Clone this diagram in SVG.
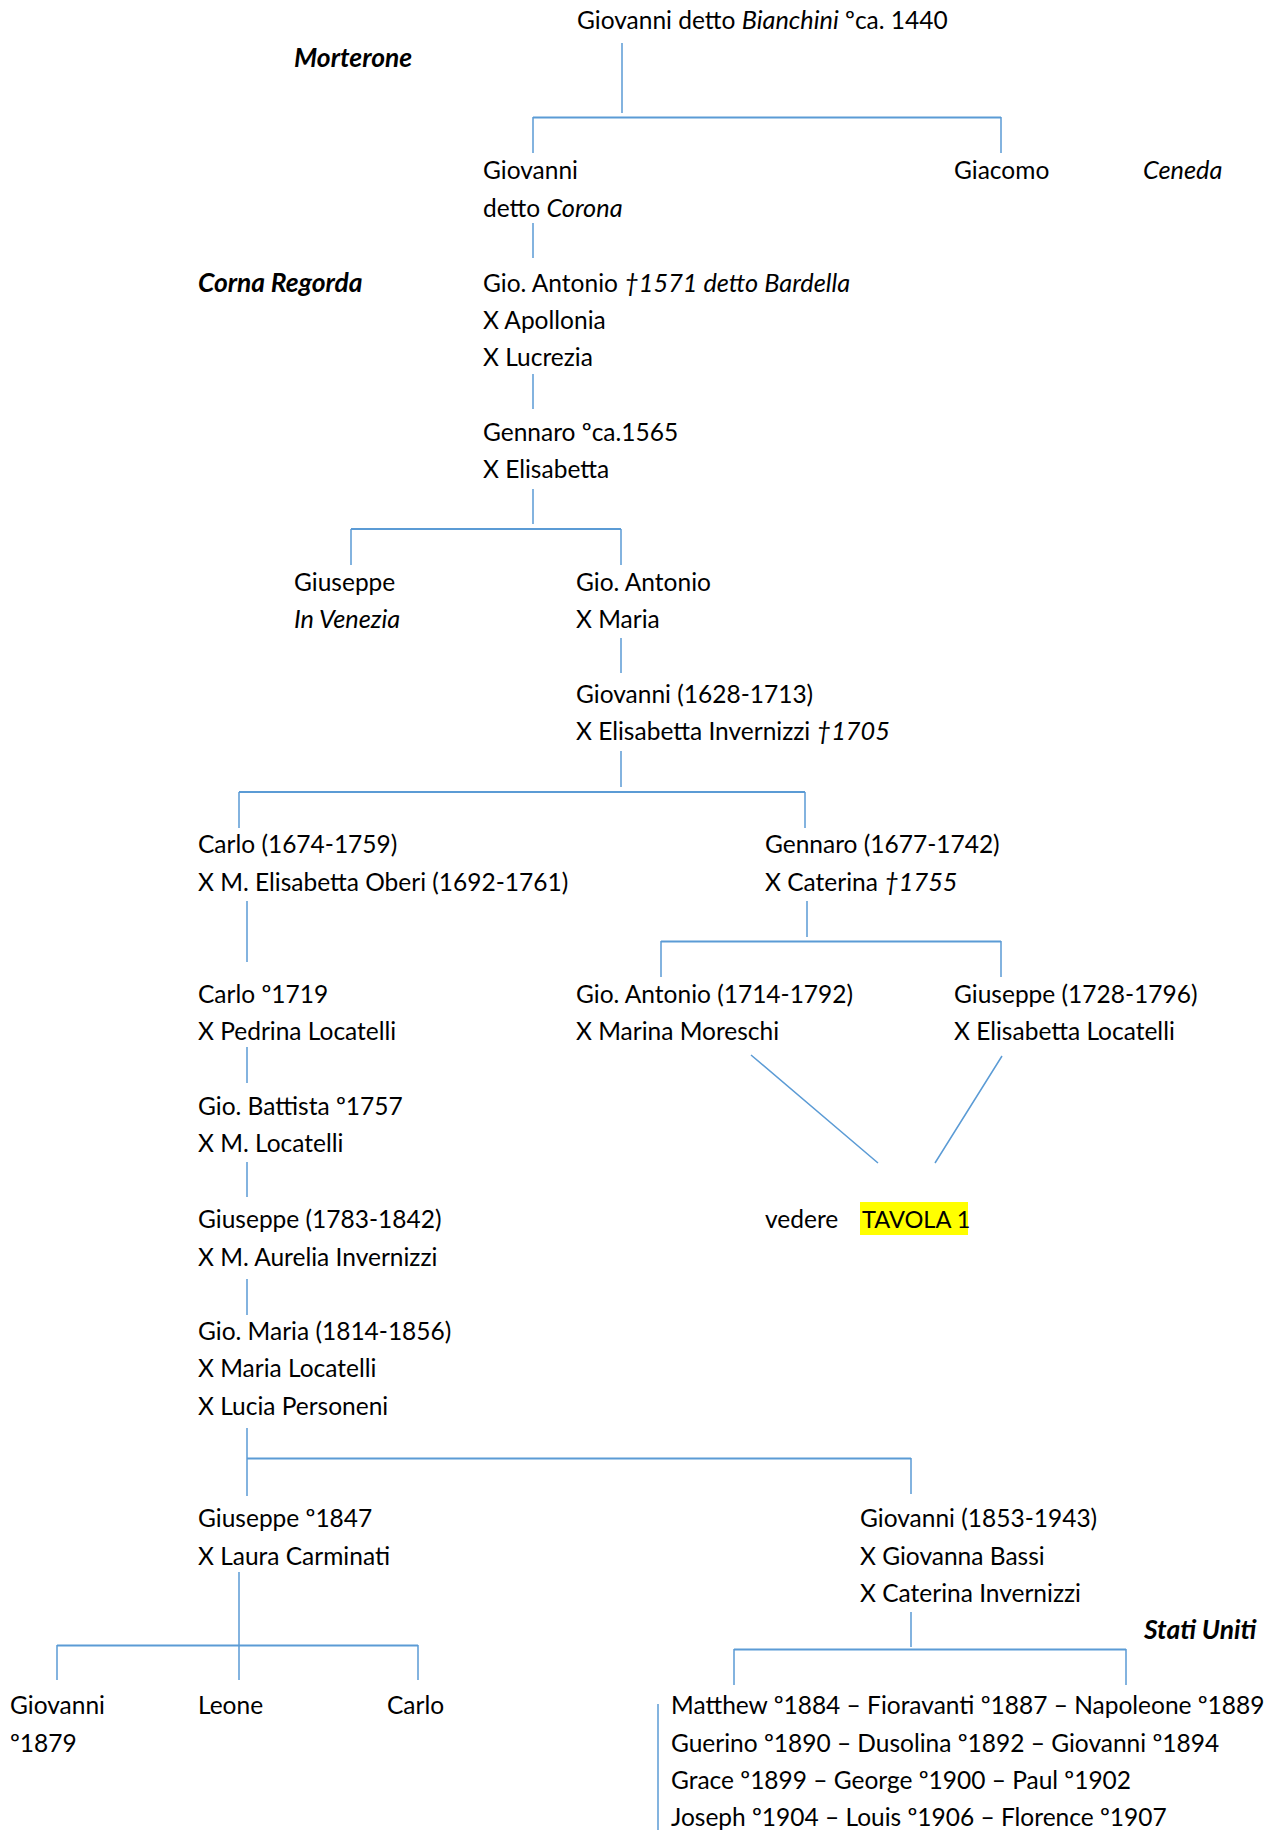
<svg xmlns="http://www.w3.org/2000/svg" width="1274" height="1830" viewBox="0 0 1274 1830">
  <style>
    text { font-family: Lato, "Liberation Sans", sans-serif; font-size: 24.5px; fill: #000; }
    .i { font-style: italic; font-size: 25.3px; }
    .bi { font-style: italic; font-weight: bold; font-size: 26.4px; }
    .tav { font-size: 23.6px; }
    .v { stroke: #5B9BD5; stroke-width: 1.5; fill: none; }
    .h { stroke: #5B9BD5; stroke-width: 2.2; fill: none; }
  </style>
  <rect width="1274" height="1830" fill="#fff"/>

  <!-- connectors -->
  <g id="connectors">
    <path class="v" d="M622 43V113 M533 117V153 M1001 117V153"/>
    <path class="h" d="M533 117.5H1001"/>
    <path class="v" d="M533 223V258 M533 374V409 M533 489V524"/>
    <path class="h" d="M351 529H621"/>
    <path class="v" d="M351 529V565 M621 529V565 M621 638V673 M621 751V787"/>
    <path class="h" d="M239 792H805"/>
    <path class="v" d="M239 792V828 M805 792V828 M247 901V962 M807 901V937"/>
    <path class="h" d="M661 941.5H1001"/>
    <path class="v" d="M661 941V977 M1001 941V977 M247 1047V1083"/>
    <path class="v" d="M751 1055L878 1163 M1002 1056L935 1163"/>
    <path class="v" d="M247 1162V1197 M247 1279V1315 M247 1428V1496 M911 1458V1494"/>
    <path class="h" d="M247 1458.5H911"/>
    <path class="v" d="M911 1612V1647 M734 1649V1685 M1126 1649V1685"/>
    <path class="h" d="M734 1649.5H1126"/>
    <path class="v" d="M239 1572V1680 M57 1645V1680 M418 1645V1680"/>
    <path class="h" d="M57 1645.5H418"/>
    <path class="v" d="M658 1704V1830"/>
  </g>

  <!-- place names -->
  <g id="place-morterone"><text class="bi" x="294" y="66.5">Morterone</text></g>
  <g id="place-ceneda"><text class="i" x="1143" y="179">Ceneda</text></g>
  <g id="place-corna-regorda"><text class="bi" x="198" y="292">Corna Regorda</text></g>
  <g id="place-stati-uniti"><text class="bi" x="1144" y="1638.5">Stati Uniti</text></g>

  <!-- people -->
  <g id="n-giovanni-bianchini"><text x="577" y="28.5">Giovanni detto <tspan class="i">Bianchini</tspan> ºca. 1440</text></g>
  <g id="n-giovanni-corona">
    <text x="483" y="179">Giovanni</text>
    <text x="483" y="216.5">detto <tspan class="i">Corona</tspan></text>
  </g>
  <g id="n-giacomo"><text x="954" y="179">Giacomo</text></g>
  <g id="n-gio-antonio-bardella">
    <text x="483" y="292">Gio. Antonio <tspan class="i">†1571 detto Bardella</tspan></text>
    <text x="483" y="329">X Apollonia</text>
    <text x="483" y="366">X Lucrezia</text>
  </g>
  <g id="n-gennaro-1565">
    <text x="483" y="441">Gennaro ºca.1565</text>
    <text x="483" y="478">X Elisabetta</text>
  </g>
  <g id="n-giuseppe-venezia">
    <text x="294" y="591">Giuseppe</text>
    <text class="i" x="294" y="628">In Venezia</text>
  </g>
  <g id="n-gio-antonio-maria">
    <text x="576" y="591">Gio. Antonio</text>
    <text x="576" y="628">X Maria</text>
  </g>
  <g id="n-giovanni-1628">
    <text x="576" y="703">Giovanni (1628-1713)</text>
    <text x="576" y="740">X Elisabetta Invernizzi <tspan class="i">†1705</tspan></text>
  </g>
  <g id="n-carlo-1674">
    <text x="198" y="853">Carlo (1674-1759)</text>
    <text x="198" y="890.5">X M. Elisabetta Oberi (1692-1761)</text>
  </g>
  <g id="n-gennaro-1677">
    <text x="765" y="853">Gennaro (1677-1742)</text>
    <text x="765" y="890.5">X Caterina <tspan class="i">†1755</tspan></text>
  </g>
  <g id="n-carlo-1719">
    <text x="198" y="1003">Carlo º1719</text>
    <text x="198" y="1040">X Pedrina Locatelli</text>
  </g>
  <g id="n-gio-antonio-1714">
    <text x="576" y="1003">Gio. Antonio (1714-1792)</text>
    <text x="576" y="1040">X Marina Moreschi</text>
  </g>
  <g id="n-giuseppe-1728">
    <text x="954" y="1003">Giuseppe (1728-1796)</text>
    <text x="954" y="1040">X Elisabetta Locatelli</text>
  </g>
  <g id="n-gio-battista">
    <text x="198" y="1115">Gio. Battista º1757</text>
    <text x="198" y="1152">X M. Locatelli</text>
  </g>
  <g id="n-tavola">
    <rect x="860" y="1202" width="108" height="33" fill="#FFFF00"/>
    <text x="765" y="1228">vedere</text>
    <text class="tav" x="862" y="1228">TAVOLA 1</text>
  </g>
  <g id="n-giuseppe-1783">
    <text x="198" y="1228">Giuseppe (1783-1842)</text>
    <text x="198" y="1265.5">X M. Aurelia Invernizzi</text>
  </g>
  <g id="n-gio-maria">
    <text x="198" y="1340">Gio. Maria (1814-1856)</text>
    <text x="198" y="1377">X Maria Locatelli</text>
    <text x="198" y="1415">X Lucia Personeni</text>
  </g>
  <g id="n-giuseppe-1847">
    <text x="198" y="1527">Giuseppe º1847</text>
    <text x="198" y="1565">X Laura Carminati</text>
  </g>
  <g id="n-giovanni-1853">
    <text x="860" y="1527">Giovanni (1853-1943)</text>
    <text x="860" y="1565">X Giovanna Bassi</text>
    <text x="860" y="1601.5">X Caterina Invernizzi</text>
  </g>
  <g id="n-giovanni-1879">
    <text x="10" y="1714">Giovanni</text>
    <text x="10" y="1751.5">º1879</text>
  </g>
  <g id="n-leone"><text x="198" y="1714">Leone</text></g>
  <g id="n-carlo"><text x="387" y="1714">Carlo</text></g>
  <g id="n-usa-children">
    <text x="671" y="1714">Matthew º1884 – Fioravanti º1887 – Napoleone º1889</text>
    <text x="671" y="1751.5">Guerino º1890 – Dusolina º1892 – Giovanni º1894</text>
    <text x="671" y="1788.5">Grace º1899 – George º1900 – Paul º1902</text>
    <text x="671" y="1826">Joseph º1904 – Louis º1906 – Florence º1907</text>
  </g>
</svg>
